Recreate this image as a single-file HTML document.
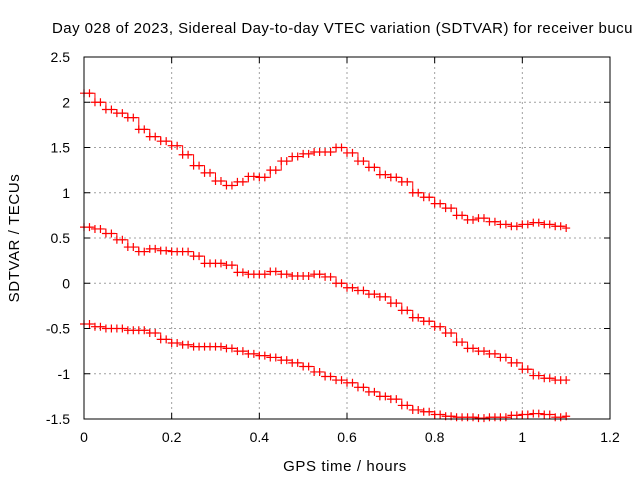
<!DOCTYPE html>
<html><head><meta charset="utf-8"><style>
body{margin:0;background:#fff;}
svg{display:block;font-family:"Liberation Sans",Arial,sans-serif;}
</style></head><body>
<svg id="chart" width="640" height="480">
<text x="52" y="33" font-size="15" letter-spacing="0.45" fill="#000">Day 028 of 2023, Sidereal Day-to-day VTEC variation (SDTVAR) for receiver bucu</text>
<text x="345" y="471" font-size="15" letter-spacing="0.6" text-anchor="middle">GPS time / hours</text>
<text transform="translate(19,238) rotate(-90)" font-size="15" letter-spacing="0.6" text-anchor="middle">SDTVAR / TECUs</text>
<g id="grid"></g><g id="series"></g>
<rect x="84" y="57" width="526" height="362" fill="none" stroke="#000" stroke-width="1"/>
</svg>
<script>
const xTicks=[0,0.2,0.4,0.6,0.8,1,1.2];
const xTickLabels=["0","0.2","0.4","0.6","0.8","1","1.2"];
const yTicks=[2.5,2,1.5,1,0.5,0,-0.5,-1,-1.5];
const yTickLabels=["2.5","2","1.5","1","0.5","0","-0.5","-1","-1.5"];
const times=[0,.025,.05,.075,.1,.125,.15,.175,.2,.225,.25,.275,.3,.325,.35,.375,.4,.425,.45,.475,.5,.525,.55,.575,.6,.625,.65,.675,.7,.725,.75,.775,.8,.825,.85,.875,.9,.925,.95,.975,1,1.025,1.05,1.075,1.1];
const seriesTop=[2.1,2.0,1.92,1.88,1.83,1.7,1.62,1.57,1.52,1.42,1.3,1.22,1.13,1.08,1.12,1.18,1.17,1.25,1.35,1.4,1.43,1.45,1.45,1.5,1.44,1.35,1.28,1.2,1.17,1.12,1.0,0.95,0.88,0.83,0.75,0.7,0.72,0.68,0.65,0.63,0.65,0.67,0.65,0.63,0.61];
const seriesMid=[0.62,0.6,0.55,0.48,0.4,0.35,0.38,0.36,0.35,0.35,0.3,0.22,0.22,0.2,0.12,0.1,0.1,0.13,0.1,0.08,0.08,0.1,0.07,0.0,-0.05,-0.08,-0.12,-0.15,-0.22,-0.3,-0.38,-0.42,-0.48,-0.55,-0.65,-0.72,-0.75,-0.78,-0.82,-0.88,-0.95,-1.02,-1.05,-1.07,-1.07];
const seriesLow=[-0.45,-0.48,-0.5,-0.5,-0.52,-0.52,-0.55,-0.62,-0.66,-0.68,-0.7,-0.7,-0.7,-0.72,-0.75,-0.78,-0.8,-0.82,-0.85,-0.88,-0.92,-0.98,-1.03,-1.07,-1.1,-1.15,-1.2,-1.25,-1.28,-1.35,-1.4,-1.42,-1.45,-1.47,-1.48,-1.48,-1.49,-1.48,-1.48,-1.46,-1.45,-1.44,-1.45,-1.48,-1.47];
const X0=84,X1=610,Y0=419,Y1=57;
function sx(v){return X0+(v-0)/(1.2-0)*(X1-X0);}
function sy(v){return Y0-(v+1.5)/4*(Y0-Y1);}
const NS="http://www.w3.org/2000/svg";
const grid=document.getElementById('grid'),ser=document.getElementById('series');
function mk(tag,attrs,parent){const e=document.createElementNS(NS,tag);for(const k in attrs)e.setAttribute(k,attrs[k]);parent.appendChild(e);return e;}
xTicks.forEach((t,i)=>{const x=sx(t);
 if(i>0&&i<xTicks.length-1){const g=mk('line',{x1:x,x2:x,y1:Y0,y2:Y1,stroke:'#a0a0a0','stroke-dasharray':'2,3'},grid);
 
 }
 const tk=mk('path',{d:`M${x},${Y0}v-6M${x},${Y1}v6`,stroke:'#000'},grid);
 
 
 const l=mk('text',{x:x,y:Y0+23,'font-size':14,'text-anchor':'middle'},grid);l.textContent=xTickLabels[i];
 
 
});
yTicks.forEach((t,i)=>{const y=sy(t);
 if(i>0&&i<yTicks.length-1){const g=mk('line',{x1:X0,x2:X1,y1:y,y2:y,stroke:'#a0a0a0','stroke-dasharray':'2,3'},grid);
 
 }
 const tk=mk('path',{d:`M${X0},${y}h6M${X1},${y}h-6`,stroke:'#000'},grid);
 
 
 const l=mk('text',{x:X0-14,y:y+5,'font-size':14,'text-anchor':'end'},grid);l.textContent=yTickLabels[i];
 
 
});
[[seriesTop,'series-upper'],[seriesMid,'series-middle'],[seriesLow,'series-lower']].forEach(([vals,name])=>{
 let d='';vals.forEach((v,i)=>{const x=sx(times[i]),y=sy(v);
  if(i===0)d+=`M${x},${y}`;else d+=`H${x}V${y}`;});
 const p=mk('path',{d:d,fill:'none',stroke:'#f00','stroke-width':1},ser);
 
 
 let md='';vals.forEach((v,i)=>{const x=sx(times[i]),y=sy(v);md+=`M${x-4},${y}h8M${x},${y-4}v8`;
  const x2=sx(times[i]+0.0125);if(times[i]<1.1)md+=`M${x2-4},${y}h8M${x2},${y-4}v8`;});
 const m=mk('path',{d:md,fill:'none',stroke:'#f00','stroke-width':1.2},ser);
 
 
});
</script>
</body></html>
